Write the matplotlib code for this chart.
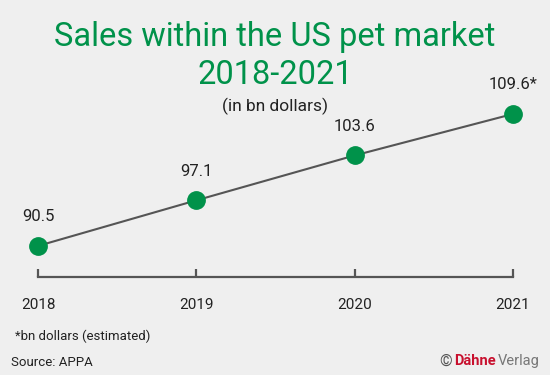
import matplotlib.pyplot as plt

# data
years = [2018, 2019, 2020, 2021]
sales = [90.5, 97.1, 103.6, 109.6]
labels = ["90.5", "97.1", "103.6", "109.6*"]

green = "#00924a"
grey = "#555555"
bg = "#efefef"

plt.rcParams['font.family'] = ['Roboto', 'DejaVu Sans']

fig = plt.figure(figsize=(5.5, 3.75), dpi=100, facecolor=bg)
W, H = 550, 375

# axes placed so the data land where they sit in the original
ax = fig.add_axes([38 / W, (H - 277) / H, (513 - 38) / W, (277 - 97.4) / H])
ax.set_facecolor(bg)
ax.plot(years, sales, color=grey, lw=1.5, zorder=2, clip_on=False)
ax.plot(years, sales, "o", ms=12.5, color=green, zorder=3, clip_on=False)
ax.set_xlim(2018, 2021)
ax.set_ylim(86, 112)

for x, y, t in zip(years, sales, labels):
    ax.annotate(t, (x, y), xytext=(0, 21), textcoords="offset points",
                ha="center", va="center", fontsize=12, color="#222222")

for s in ["top", "left", "right"]:
    ax.spines[s].set_visible(False)
ax.spines["bottom"].set_color(grey)
ax.spines["bottom"].set_linewidth(1.6)
ax.set_yticks([])
ax.set_xticks(years)
ax.set_xticklabels([str(y) for y in years])
ax.tick_params(axis="x", direction="in", length=5.5, width=1.6, color=grey,
               pad=15, labelsize=11, labelcolor="#222222")

# titles
fig.text(0.5, 1 - 37 / H, "Sales within the US pet market", ha="center", va="center",
         fontsize=23.5, color=green)
fig.text(0.5, 1 - 75 / H, "2018-2021", ha="center", va="center",
         fontsize=23.5, color=green)
fig.text(0.5, 1 - 106 / H, "(in bn dollars)", ha="center", va="center",
         fontsize=12.5, color="#222222")

# footer
fig.text(15 / W, 1 - 336 / H, "*bn dollars (estimated)", ha="left", va="center",
         fontsize=9.5, color="#222222")
fig.text(11 / W, 1 - 362 / H, "Source: APPA", ha="left", va="center",
         fontsize=9.5, color="#222222")
verlag = fig.text(540 / W, 1 - 361 / H, "Verlag", ha="right", va="center",
                  fontsize=10.5, color="#777777")
dahne = ax.annotate("Dähne", xy=(0, 0.5), xycoords=verlag, xytext=(-2, 0),
                    textcoords="offset points", ha="right", va="center",
                    fontsize=10.5, color="#c8102e", fontweight="bold",
                    annotation_clip=False)
ax.annotate("©", xy=(0, 0.5), xycoords=dahne, xytext=(-1, 0),
            textcoords="offset points", ha="right", va="center",
            fontsize=11.5, color="#555555", annotation_clip=False)

fig.savefig("out.png", dpi=100, facecolor=bg)
